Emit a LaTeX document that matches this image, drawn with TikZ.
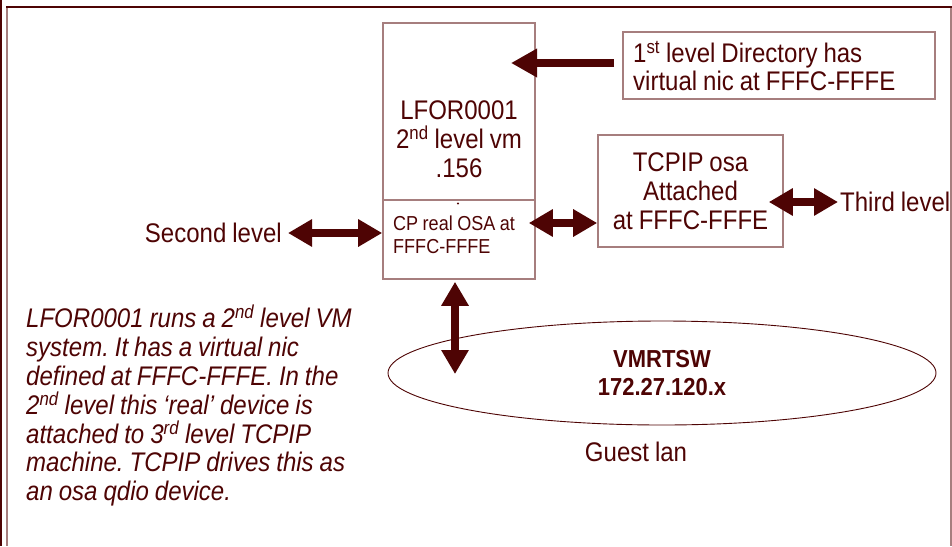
\documentclass[tikz,border=0pt]{standalone}
\usepackage{fontspec}
% Liberation Sans, set slightly condensed so the letters stand tall
\setmainfont{Liberation Sans}[FakeStretch=0.893, WordSpace=0.893]
\usetikzlibrary{arrows.meta,shapes.geometric}
\definecolor{ink}{RGB}{78,4,4}
\definecolor{rim}{RGB}{166,126,126}
\frenchspacing
\tikzset{
  every node/.style={inner sep=0pt, text=ink},
  big/.style={font=\fontsize{26.9}{28.8}\selectfont},
  small/.style={font=\fontsize{20.2}{23}\selectfont},
  boxed/.style={draw=rim, line width=1.6pt},
  twoway/.style={draw=ink, line width=7.5pt, {Triangle[length=24pt,width=26pt]}-{Triangle[length=24pt,width=26pt]}},
  oneway/.style={draw=ink, line width=7.5pt, -{Triangle[length=26pt,width=27pt]}},
}
\begin{document}
\begin{tikzpicture}[x=1pt,y=-1pt]
\useasboundingbox (0,0) rectangle (952,546);

% slide frame
\draw[ink, line width=2pt] (1,0) -- (1,546);
\draw[rim, line width=2pt] (7,7) -- (7,546);
\draw[ink, line width=2pt] (6,7) -- (952,7);
\draw[rim, line width=2pt] (951,8) -- (951,546);

% second level guest: upper and lower compartments
\node[boxed, minimum width=152pt, minimum height=177pt] (vm) at (459,111.5) {};
\node[boxed, minimum width=152pt, minimum height=79pt] (osa) at (459,239.5) {};
\node[big, align=center] (vmtext) at (459,139) {LFOR0001\\2\textsuperscript{nd} level vm\\.156};
\fill[ink] (458,203.5) circle (1.2pt);
\node[small, align=left, anchor=west] (osatext) at (393,234.5) {CP real OSA at\\FFFC-FFFE};

% directory note
\node[boxed, minimum width=312pt, minimum height=67pt] (dir) at (779,65.5) {};
\node[big, align=left, anchor=west] (dirtext) at (633,66) {1\textsuperscript{st} level Directory has\\virtual nic at FFFC-FFFE};

% third level TCPIP
\node[boxed, big, align=center, minimum width=185pt, minimum height=112pt] (tcp) at (690.5,191) {TCPIP osa\\Attached\\at FFFC-FFFE};
\node[big, anchor=west] (third) at (840,202) {Third level};

% level labels
\node[big, anchor=east] (second) at (282,233) {Second level};

% guest lan
\node[draw=ink, line width=0.9pt, ellipse, minimum width=548pt, minimum height=104pt,
      font=\bfseries\fontsize{24.6}{28}\selectfont, align=center] (lan) at (662,373) {VMRTSW\\172.27.120.x};
\node[big] (guest) at (636,452) {Guest lan};

% explanatory text
\node[font=\itshape\fontsize{26.9}{28.8}\selectfont, align=left, anchor=north west] (note) at (26,305)
  {LFOR0001 runs a 2\textsuperscript{nd} level VM\\
   system. It has a virtual nic\\
   defined at FFFC-FFFE. In the\\
   2\textsuperscript{nd} level this `real' device is\\
   attached to 3\textsuperscript{rd} level TCPIP\\
   machine. TCPIP drives this as\\
   an osa qdio device.};

% connectors
\coordinate (nicend) at (511,63);
\coordinate (lantip) at (455,374);
\draw[oneway] ([xshift=-8pt]dir.west |- nicend) -- (nicend);
\draw[twoway] ([xshift=6pt]second.east) -- (second.east -| osa.west);
\draw[twoway] ([xshift=-7pt,yshift=16.5pt]osa.east) -- ([yshift=16.5pt]osa.east -| tcp.west);
\draw[twoway] ([xshift=-15pt]tcp.east |- third.west) -- ([xshift=-2pt]third.west);
\draw[twoway] ([yshift=-2pt]osa.south -| lantip) -- (lantip);
\end{tikzpicture}
\end{document}
